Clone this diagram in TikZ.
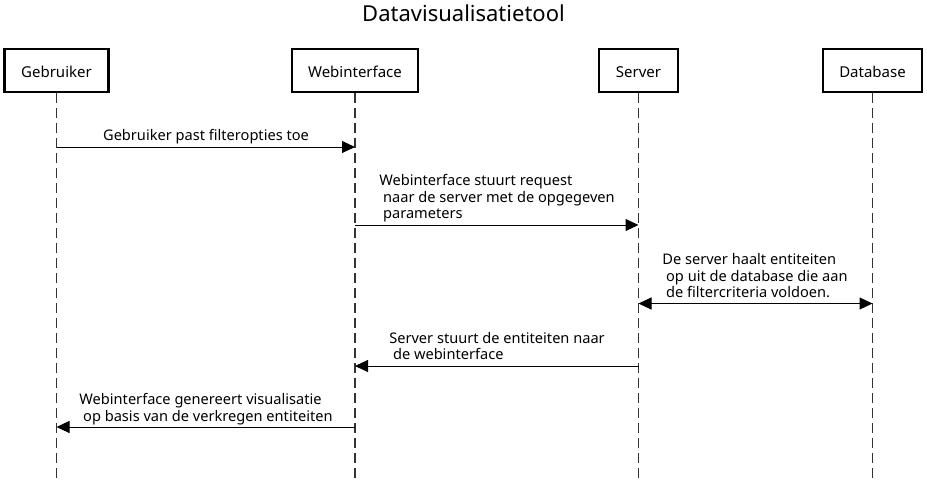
\documentclass[tikz,border=0pt]{standalone}
\usepackage{fontspec}
\setmainfont{Noto Sans}
\usetikzlibrary{arrows.meta}

\begin{document}
\begin{tikzpicture}[x=1pt, y=-1pt,
  actor/.style={draw, line width=2.4pt, inner sep=0pt, minimum height=43pt,
    text height=14pt, text depth=0pt, font=\fontsize{15}{18}\selectfont},
  lifeline/.style={line width=1.1pt, black!80, dash pattern=on 10pt off 5pt},
  msg/.style={line width=1pt, -{Triangle[length=13pt, width=12pt]}},
  both/.style={line width=1pt, {Triangle[length=13pt, width=12pt]}-{Triangle[length=13pt, width=12pt]}},
  msgtext/.style={anchor=base, align=left, inner sep=0pt, font=\fontsize{14.6}{16.3}\selectfont}]
  \useasboundingbox (0,0) rectangle (927,483);

  % Title
  \node[anchor=base, inner sep=0pt, font=\fontsize{22}{26}\selectfont] (title) at (463.5,21.5) {Datavisualisatietool};

  % Define the actors
  \node[actor, minimum width=104pt] (geb) at (56.5,70.5) {Gebruiker};
  \node[actor, minimum width=126pt] (web) at (355,70.5) {Webinterface};
  \node[actor, minimum width=79pt] (srv) at (638.5,70.5) {Server};
  \node[actor, minimum width=99pt] (db) at (872.5,70.5) {Database};

  % Define the rows of the messages
  \coordinate (bottom) at (0,483);
  \coordinate (r1) at (0,147);
  \coordinate (r2) at (0,225);
  \coordinate (r3) at (0,303.5);
  \coordinate (r4) at (0,366);
  \coordinate (r5) at (0,427);

  % Draw the lifelines
  \foreach \a in {geb, web, srv, db}
    \draw[lifeline] (\a.south) -- (\a |- bottom);

  % Draw the messages
  \draw[msg] (geb |- r1) -- (web |- r1);
  \draw[msg] (web |- r2) -- (srv |- r2);
  \draw[both] (srv |- r3) -- (db |- r3);
  \draw[msg] (srv |- r4) -- (web |- r4);
  \draw[msg] (web |- r5) -- (geb |- r5);

  % Label the messages (base is on the last line)
  \node[msgtext] (m1) at (206,140.5) {Gebruiker past filteropties toe};
  \node[msgtext] (m2) at (497,218.5) {Webinterface stuurt request\\\ naar de server met de opgegeven\\\ parameters};
  \node[msgtext] (m3) at (755,297.5) {De server haalt entiteiten\\\ op uit de database die aan\\\ de filtercriteria voldoen.};
  \node[msgtext] (m4) at (497,359.5) {Server stuurt de entiteiten naar\\\ de webinterface};
  \node[msgtext] (m5) at (206,421) {Webinterface genereert visualisatie\\\ op basis van de verkregen entiteiten};
\end{tikzpicture}
\end{document}
